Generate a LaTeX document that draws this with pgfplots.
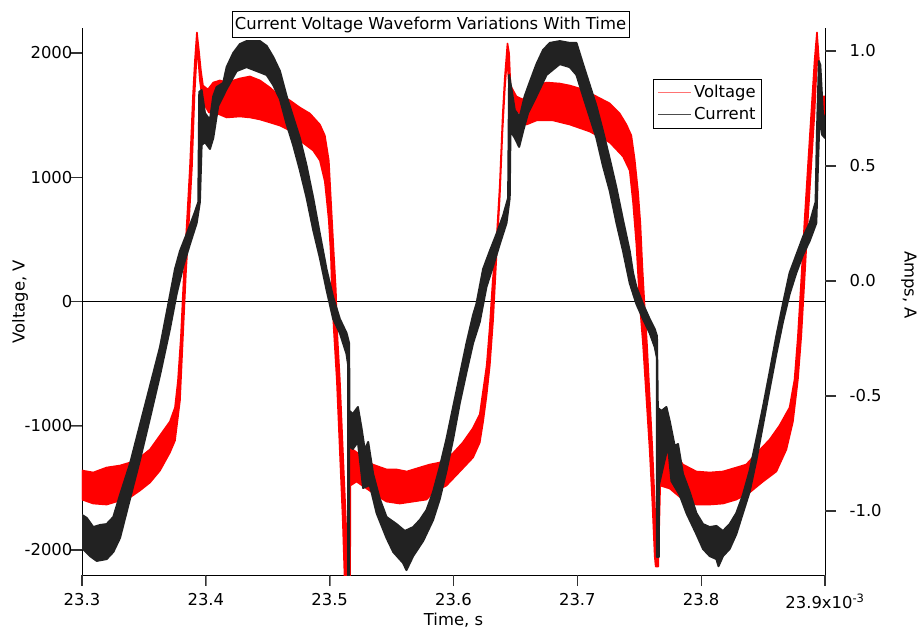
\documentclass[border=0pt]{standalone}
\usepackage{pgfplots}
\pgfplotsset{compat=1.18}
\usepackage{fontspec}
\setmainfont{DejaVu Sans}
\definecolor{curblack}{HTML}{222222}
\begin{document}
\fontsize{16.4}{19}\selectfont
\begin{tikzpicture}
\path (-82pt,-67pt) rectangle (841pt,575pt);
\pgfplotsset{
  base/.style={
    at={(0pt,0pt)}, anchor=south west,
    scale only axis, width=743pt, height=547pt,
    xmin=23.3, xmax=23.9,
    ticklabel style={font=\fontsize{16.4}{19}\selectfont},
    label style={font=\fontsize{16.4}{19}\selectfont},
    /pgf/number format/assume math mode=true,
    scaled ticks=false,
  },
}
\begin{axis}[base,
  axis y line*=left, axis x line*=bottom,
  tick align=outside, major tick length=11pt,
  axis line style={black, line width=0.8pt},
  ymin=-2201, ymax=2201,
  ytick={-2000,-1000,0,1000,2000},
  yticklabel style={/pgf/number format/1000 sep={}, xshift=7pt},
  xtick={23.3,23.4,23.5,23.6,23.7,23.8,23.9},
  xticklabels={23.3,23.4,23.5,23.6,23.7,23.8,{23.9x10\textsuperscript{-3}}},
  xticklabel style={yshift=-2pt},
  xlabel={Time, s},
  xlabel style={at={(axis description cs:0.5,0)}, anchor=center, yshift=-45pt},
  ylabel={Voltage, V},
  ylabel style={at={(axis description cs:-0.0834,0.5)}, anchor=center},
]
\addplot[black, line width=0.8pt, forget plot] coordinates {(23.3,0) (23.9,0)};
% Voltage band: upper envelope, then lower envelope (reversed)
\addplot[fill=red, draw=red, line width=1.6pt, line join=round, forget plot] coordinates {
(23.3000,-1360) (23.3091,-1376) (23.3199,-1336) (23.3307,-1320) (23.3387,-1296) (23.3468,-1255) (23.3549,-1191) (23.3630,-1078) (23.3710,-966) (23.3751,-853) (23.3775,-636) (23.3799,-282) (23.3823,225) (23.3848,652) (23.3872,1086) (23.3896,1650) (23.3912,1940) (23.3928,2165) (23.3944,2020) (23.3960,1859) (23.3977,1738) (23.4017,1706) (23.4060,1762) (23.4114,1779) (23.4168,1762) (23.4275,1795) (23.4356,1811) (23.4437,1779) (23.4517,1722) (23.4571,1674) (23.4679,1618) (23.4759,1561) (23.4840,1513) (23.4921,1424) (23.4961,1336) (23.4993,1135) (23.5010,813) (23.5034,370) (23.5050,89) (23.5058,-201) (23.5082,-628) (23.5106,-1191) (23.5131,-1763) (23.5147,-2300) (23.5155,-2300) (23.5159,-1167) (23.5187,-1191) (23.5348,-1312) (23.5461,-1352) (23.5542,-1352) (23.5623,-1368) (23.5728,-1336) (23.5808,-1312) (23.5889,-1296) (23.5994,-1223) (23.6075,-1135) (23.6155,-1022) (23.6212,-909) (23.6236,-740) (23.6268,-515) (23.6293,-201) (23.6317,169) (23.6349,515) (23.6374,942) (23.6398,1513) (23.6414,1795) (23.6436,2076) (23.6449,1996) (23.6460,1738) (23.6508,1650) (23.6559,1626) (23.6616,1682) (23.6670,1738) (23.6751,1762) (23.6858,1754) (23.6939,1738) (23.7046,1706) (23.7154,1650) (23.7262,1594) (23.7342,1513) (23.7396,1424) (23.7436,1336) (23.7463,1143) (23.7490,885) (23.7509,628) (23.7525,282) (23.7544,-56) (23.7562,-338) (23.7584,-765) (23.7606,-1191) (23.7625,-1618) (23.7643,-2084) (23.7651,-2125) (23.7659,-1167) (23.7665,-1167) (23.7719,-1135) (23.7772,-1191) (23.7853,-1312) (23.7961,-1368) (23.8069,-1376) (23.8176,-1368) (23.8284,-1336) (23.8364,-1312) (23.8446,-1223) (23.8553,-1111) (23.8633,-998) (23.8714,-853) (23.8754,-628) (23.8781,-282) (23.8808,169) (23.8835,652) (23.8862,1086) (23.8889,1513) (23.8916,1940) (23.8935,2165) (23.8951,1940) (23.8970,1650) (23.9000,1650)
(23.9000,1424) (23.8978,1513) (23.8956,1650) (23.8943,2060) (23.8935,1940) (23.8915,1513) (23.8888,1086) (23.8861,652) (23.8834,169) (23.8808,-282) (23.8781,-628) (23.8741,-966) (23.8688,-1191) (23.8607,-1368) (23.8499,-1449) (23.8391,-1537) (23.8284,-1594) (23.8176,-1626) (23.8069,-1634) (23.7961,-1634) (23.7853,-1594) (23.7746,-1505) (23.7669,-1481) (23.7653,-2133) (23.7633,-2133) (23.7625,-2052) (23.7606,-1618) (23.7584,-1191) (23.7557,-765) (23.7530,-338) (23.7503,0) (23.7477,459) (23.7450,797) (23.7423,1054) (23.7369,1167) (23.7262,1280) (23.7100,1368) (23.6939,1424) (23.6804,1457) (23.6670,1457) (23.6589,1424) (23.6535,1513) (23.6495,1545) (23.6454,1650) (23.6433,1964) (23.6414,1706) (23.6395,1360) (23.6374,853) (23.6347,370) (23.6320,-145) (23.6293,-515) (23.6266,-764) (23.6239,-966) (23.6212,-1135) (23.6158,-1255) (23.6051,-1368) (23.5943,-1481) (23.5835,-1537) (23.5782,-1594) (23.5674,-1610) (23.5566,-1626) (23.5459,-1610) (23.5379,-1561) (23.5298,-1505) (23.5217,-1449) (23.5167,-1481) (23.5165,-2300) (23.5123,-2300) (23.5106,-1763) (23.5082,-1199) (23.5058,-636) (23.5034,-233) (23.5018,89) (23.5010,370) (23.4993,652) (23.4977,813) (23.4961,966) (23.4921,1135) (23.4867,1215) (23.4759,1296) (23.4679,1376) (23.4598,1416) (23.4517,1441) (23.4437,1465) (23.4356,1481) (23.4275,1489) (23.4168,1481) (23.4073,1521) (23.4025,1521) (23.3993,1577) (23.3968,1658) (23.3952,1779) (23.3940,1940) (23.3932,2060) (23.3924,1940) (23.3908,1650) (23.3888,1086) (23.3864,652) (23.3839,225) (23.3815,-282) (23.3791,-797) (23.3751,-1119) (23.3710,-1215) (23.3630,-1360) (23.3549,-1457) (23.3468,-1521) (23.3387,-1577) (23.3307,-1602) (23.3199,-1634) (23.3091,-1626) (23.3000,-1594)
} -- cycle;
\end{axis}
\begin{axis}[base,
  axis y line*=right, axis x line=none,
  tick align=outside, major tick length=11pt,
  axis line style={black, line width=0.8pt},
  ymin=-1.2783, ymax=1.1,
  ytick={-1,-0.5,0,0.5,1},
  yticklabel style={/pgf/number format/.cd, fixed, fixed zerofill, precision=1, /tikz/.cd, xshift=8pt},
  ylabel={Amps, A},
  ylabel style={at={(axis description cs:1.113,0.53)}, anchor=center, rotate=180},
  legend style={at={(0.9152,0.9068)}, anchor=north east, draw=black, line width=0.8pt, fill=white, font=\fontsize{16.4}{19}\selectfont, inner xsep=4pt, inner ysep=4pt, row sep=3pt},
  legend cell align=right,
  legend image code/.code={\draw[#1] (0pt,0pt) -- (33pt,0pt);},
]
% Current band: upper envelope, then lower envelope (reversed)
\addplot[fill=curblack, draw=curblack, line width=2pt, line join=round, forget plot] coordinates {
(23.3000,-1.017) (23.3038,-1.030) (23.3091,-1.070) (23.3145,-1.061) (23.3199,-1.057) (23.3253,-1.026) (23.3307,-0.930) (23.3387,-0.796) (23.3468,-0.626) (23.3549,-0.457) (23.3630,-0.287) (23.3697,-0.100) (23.3751,0.052) (23.3791,0.130) (23.3845,0.204) (23.3912,0.300) (23.3939,0.343) (23.3947,0.822) (23.3966,0.830) (23.3993,0.730) (23.4033,0.700) (23.4060,0.804) (23.4087,0.843) (23.4140,0.861) (23.4168,0.930) (23.4221,0.991) (23.4275,1.030) (23.4329,1.043) (23.4437,1.043) (23.4491,1.022) (23.4544,0.974) (23.4598,0.913) (23.4652,0.804) (23.4705,0.713) (23.4759,0.622) (23.4814,0.500) (23.4867,0.361) (23.4921,0.204) (23.4975,0.050) (23.5028,-0.070) (23.5082,-0.165) (23.5136,-0.226) (23.5157,-0.270) (23.5160,-0.565) (23.5187,-0.578) (23.5228,-0.548) (23.5257,-0.639) (23.5284,-0.735) (23.5311,-0.700) (23.5351,-0.839) (23.5405,-0.948) (23.5459,-1.026) (23.5540,-1.057) (23.5607,-1.087) (23.5674,-1.070) (23.5728,-1.039) (23.5782,-0.996) (23.5835,-0.917) (23.5889,-0.809) (23.5943,-0.687) (23.5997,-0.548) (23.6051,-0.409) (23.6105,-0.270) (23.6158,-0.148) (23.6185,-0.100) (23.6239,0.052) (23.6293,0.130) (23.6347,0.204) (23.6400,0.283) (23.6441,0.361) (23.6449,0.896) (23.6468,0.835) (23.6495,0.743) (23.6535,0.713) (23.6575,0.804) (23.6616,0.865) (23.6670,0.943) (23.6723,1.004) (23.6777,1.035) (23.6858,1.043) (23.6939,1.035) (23.6993,1.035) (23.7046,0.943) (23.7100,0.852) (23.7154,0.761) (23.7207,0.652) (23.7262,0.530) (23.7316,0.404) (23.7369,0.265) (23.7423,0.130) (23.7450,0.035) (23.7477,-0.026) (23.7530,-0.100) (23.7584,-0.165) (23.7625,-0.209) (23.7643,-0.239) (23.7650,-0.552) (23.7679,-0.565) (23.7719,-0.548) (23.7746,-0.609) (23.7786,-0.717) (23.7813,-0.709) (23.7853,-0.839) (23.7907,-0.917) (23.7961,-1.009) (23.8015,-1.057) (23.8069,-1.070) (23.8123,-1.065) (23.8176,-1.087) (23.8230,-1.057) (23.8284,-1.009) (23.8337,-0.930) (23.8391,-0.826) (23.8446,-0.687) (23.8499,-0.548) (23.8553,-0.396) (23.8607,-0.239) (23.8660,-0.100) (23.8714,0.035) (23.8768,0.113) (23.8822,0.191) (23.8876,0.252) (23.8924,0.343) (23.8935,0.652) (23.8951,0.956) (23.8962,0.939) (23.8983,0.730) (23.9000,0.700)
(23.9000,0.622) (23.8978,0.635) (23.8956,0.713) (23.8943,0.500) (23.8930,0.252) (23.8876,0.174) (23.8822,0.113) (23.8768,0.035) (23.8714,-0.057) (23.8660,-0.178) (23.8607,-0.317) (23.8553,-0.470) (23.8499,-0.626) (23.8446,-0.778) (23.8391,-0.917) (23.8337,-1.009) (23.8284,-1.100) (23.8230,-1.165) (23.8176,-1.196) (23.8140,-1.240) (23.8123,-1.209) (23.8069,-1.196) (23.8015,-1.165) (23.7961,-1.100) (23.7881,-1.009) (23.7826,-0.930) (23.7760,-0.870) (23.7732,-0.717) (23.7692,-0.809) (23.7659,-0.887) (23.7659,-1.200) (23.7643,-1.200) (23.7643,-0.335) (23.7625,-0.287) (23.7584,-0.226) (23.7530,-0.165) (23.7477,-0.100) (23.7423,-0.009) (23.7369,0.130) (23.7316,0.252) (23.7262,0.391) (23.7207,0.500) (23.7154,0.622) (23.7100,0.713) (23.7046,0.804) (23.6993,0.896) (23.6939,0.930) (23.6858,0.943) (23.6751,0.896) (23.6670,0.804) (23.6602,0.730) (23.6562,0.652) (23.6530,0.583) (23.6495,0.622) (23.6460,0.652) (23.6454,0.361) (23.6428,0.252) (23.6374,0.161) (23.6320,0.065) (23.6266,-0.026) (23.6212,-0.178) (23.6158,-0.270) (23.6105,-0.396) (23.6051,-0.530) (23.5997,-0.687) (23.5943,-0.826) (23.5889,-0.948) (23.5835,-1.039) (23.5755,-1.130) (23.5674,-1.196) (23.5620,-1.257) (23.5593,-1.226) (23.5513,-1.178) (23.5459,-1.117) (23.5379,-1.009) (23.5324,-0.887) (23.5270,-0.900) (23.5228,-0.700) (23.5187,-0.730) (23.5157,-0.717) (23.5157,-1.300) (23.5149,-1.300) (23.5149,-0.365) (23.5136,-0.317) (23.5082,-0.226) (23.5028,-0.165) (23.4975,-0.039) (23.4921,0.100) (23.4867,0.222) (23.4814,0.361) (23.4759,0.483) (23.4705,0.591) (23.4652,0.683) (23.4598,0.791) (23.4544,0.852) (23.4491,0.896) (23.4410,0.913) (23.4329,0.930) (23.4249,0.913) (23.4168,0.835) (23.4100,0.761) (23.4060,0.622) (23.4033,0.574) (23.3993,0.604) (23.3966,0.591) (23.3952,0.343) (23.3926,0.252) (23.3872,0.161) (23.3818,0.065) (23.3764,-0.057) (23.3710,-0.209) (23.3630,-0.409) (23.3549,-0.596) (23.3468,-0.778) (23.3387,-0.948) (23.3307,-1.117) (23.3253,-1.178) (23.3199,-1.209) (23.3119,-1.217) (23.3065,-1.196) (23.3000,-1.161)
} -- cycle;
\addlegendimage{red!55, line width=1.2pt}
\addlegendentry{Voltage}
\addlegendimage{black!70, line width=1.2pt}
\addlegendentry{Current}
\end{axis}
% outside tick marks (axis area spans (0,0) to (743pt,547pt))
\draw[black!80, line width=1.2pt]
  (0pt,0pt) -- (0pt,-11pt) (123.833pt,0pt) -- (123.833pt,-11pt) (247.667pt,0pt) -- (247.667pt,-11pt)
  (371.5pt,0pt) -- (371.5pt,-11pt) (495.333pt,0pt) -- (495.333pt,-11pt) (619.167pt,0pt) -- (619.167pt,-11pt)
  (743pt,0pt) -- (743pt,-11pt)
  (0pt,24.98pt) -- (-11pt,24.98pt) (0pt,149.23pt) -- (-11pt,149.23pt) (0pt,273.5pt) -- (-11pt,273.5pt)
  (0pt,397.77pt) -- (-11pt,397.77pt) (0pt,522.03pt) -- (-11pt,522.03pt)
  (743pt,64pt) -- (754pt,64pt) (743pt,179pt) -- (754pt,179pt) (743pt,294pt) -- (754pt,294pt)
  (743pt,409pt) -- (754pt,409pt) (743pt,524pt) -- (754pt,524pt);
\node[draw=black, line width=0.8pt, fill=white, inner xsep=3pt, inner ysep=5pt] at (348.5pt,550.5pt) {Current Voltage Waveform Variations With Time};
\end{tikzpicture}
\end{document}
